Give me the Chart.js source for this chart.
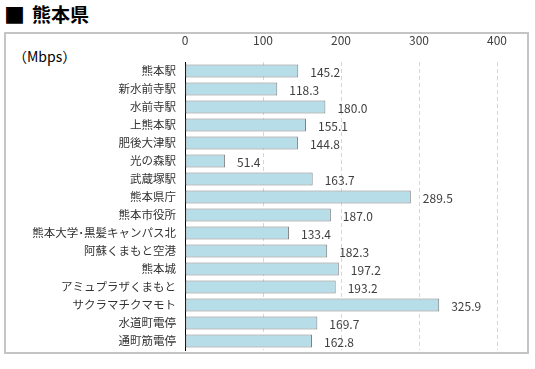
<!DOCTYPE html>
<html lang="ja">
<head>
<meta charset="utf-8">
<script src="https://cdn.jsdelivr.net/npm/chart.js@4/dist/chart.umd.min.js"></script>
<style>
  html, body { margin: 0; padding: 0; background: #fff; }
  #wrap { position: relative; width: 535px; height: 369px; overflow: hidden; }
  .ttl {
    position: absolute; top: 1px;
    font-family: "Noto Sans CJK JP", sans-serif; font-weight: bold; color: #000;
    line-height: 26px; white-space: nowrap;
  }
  #mark { left: 4px; font-size: 21px; }
  #title { left: 32px; font-size: 19px; }
  #frame {
    position: absolute; left: 4px; top: 32px; width: 521px; height: 318px;
    border: 2px solid #c4c4c4;
  }
  #unit {
    position: absolute; left: 13px; top: 46px;
    font: 14px "Noto Sans CJK JP", sans-serif; color: #000; white-space: nowrap;
  }
  canvas { position: absolute; left: 0; top: 0; }
</style>
</head>
<body>
<div id="wrap">
  <div class="ttl" id="mark">■</div>
  <div class="ttl" id="title">熊本県</div>
  <div id="frame"></div>
  <div id="unit">（Mbps）</div>
  <canvas id="chart" width="535" height="369"></canvas>
</div>
<script>
const stations = [
  "熊本駅", "新水前寺駅", "水前寺駅", "上熊本駅", "肥後大津駅", "光の森駅",
  "武蔵塚駅", "熊本県庁", "熊本市役所", "熊本大学･黒髪キャンパス北",
  "阿蘇くまもと空港", "熊本城", "アミュプラザくまもと", "サクラマチクマモト",
  "水道町電停", "通町筋電停",
];
const speeds = [
  145.2, 118.3, 180.0, 155.1, 144.8, 51.4, 163.7, 289.5,
  187.0, 133.4, 182.3, 197.2, 193.2, 325.9, 169.7, 162.8,
];
const xTicks = [0, 100, 200, 300, 400];

const fontJP = '"Noto Sans CJK JP", sans-serif';

// value labels to the right of each bar
const valueLabels = {
  id: "valueLabels",
  afterDatasetsDraw(chart) {
    const ctx = chart.ctx;
    const meta = chart.getDatasetMeta(0);
    ctx.save();
    ctx.font = "12px " + fontJP;
    ctx.fillStyle = "#404040";
    ctx.textAlign = "left";
    ctx.textBaseline = "middle";
    meta.data.forEach((bar, i) => {
      ctx.fillText(speeds[i].toFixed(1), bar.x + 12, bar.y + 1);
    });
    ctx.restore();
  },
};

new Chart(document.getElementById("chart"), {
  type: "bar",
  data: {
    labels: stations,
    datasets: [
      {
        data: speeds,
        backgroundColor: "#b7dee8",
        borderColor: "#7f7f7f",
        borderWidth: 1,
        borderSkipped: false,
        barPercentage: 0.9,
        categoryPercentage: 0.8,
      },
    ],
  },
  options: {
    indexAxis: "y",
    responsive: false,
    animation: false,
    layout: { padding: { left: 0, right: 38, top: 0, bottom: 19 } },
    plugins: {
      legend: { display: false },
      tooltip: { enabled: false },
    },
    scales: {
      x: {
        position: "top",
        min: xTicks[0],
        max: xTicks[xTicks.length - 1],
        afterBuildTicks: (s) => {
          s.ticks = xTicks.map((v) => ({ value: v }));
        },
        afterFit: (s) => {
          s.height = 62;
        },
        grid: {
          drawTicks: false,
          color: (c) => (c.tick && c.tick.value === 0 ? "rgba(0,0,0,0)" : "#d6d6d6"),
          lineWidth: 1,
        },
        border: { display: false, dash: [4, 3] },
        ticks: {
          color: "#404040",
          padding: 14,
          font: { family: fontJP, size: 12 },
        },
      },
      y: {
        afterFit: (s) => {
          s.width = 185;
        },
        border: { display: true, color: "#000", width: 1 },
        grid: { display: false, drawTicks: false },
        ticks: {
          color: "#333",
          padding: 9,
          autoSkip: false,
          font: { family: fontJP, size: 11.5 },
        },
      },
    },
  },
  plugins: [valueLabels],
});
</script>
</body>
</html>
